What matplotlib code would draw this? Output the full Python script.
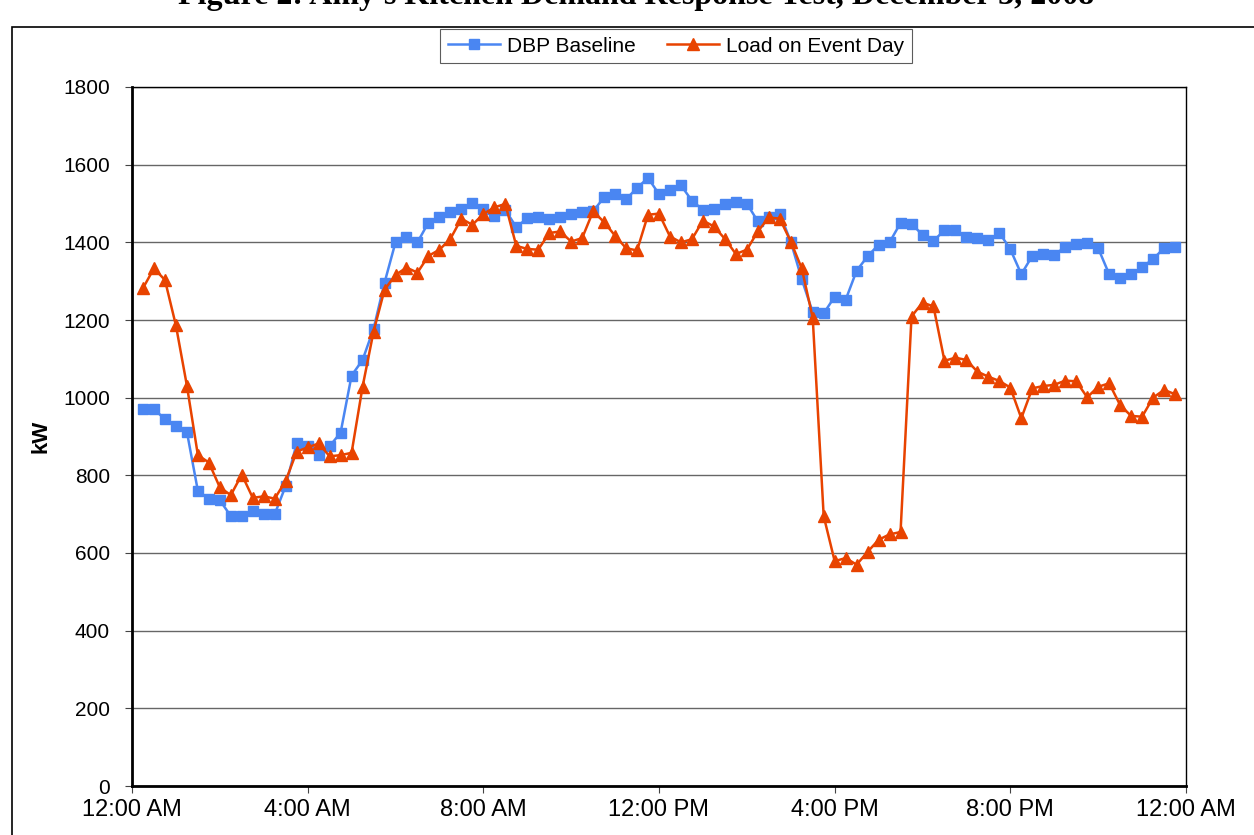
import matplotlib
matplotlib.use("Agg")
import matplotlib.pyplot as plt
from matplotlib.patches import Rectangle
import numpy as np

# 15-minute readings, 12:15 AM .. 11:45 PM (kW)
baseline = [
    970, 970, 945, 928, 912, 760, 740, 736, 695, 695, 707, 700, 700, 773, 883, 876,
    852, 875, 910, 1057, 1097, 1177, 1296, 1400, 1413, 1400, 1451, 1465, 1477, 1487,
    1501, 1486, 1468, 1484, 1439, 1462, 1465, 1461, 1465, 1473, 1477, 1480, 1516, 1525,
    1511, 1540, 1566, 1524, 1536, 1547, 1507, 1484, 1487, 1499, 1504, 1500, 1454, 1465,
    1474, 1402, 1305, 1220, 1217, 1260, 1252, 1327, 1364, 1394, 1400, 1450, 1448, 1419,
    1404, 1431, 1432, 1413, 1411, 1405, 1425, 1382, 1318, 1365, 1370, 1368, 1388, 1395,
    1398, 1385, 1318, 1308, 1318, 1336, 1357, 1385, 1389,
]
event_load = [
    1282, 1333, 1303, 1186, 1031, 852, 833, 769, 749, 802, 742, 746, 740, 786, 861, 872,
    882, 849, 852, 858, 1028, 1170, 1278, 1316, 1335, 1322, 1365, 1381, 1409, 1461,
    1445, 1473, 1490, 1499, 1391, 1383, 1381, 1424, 1428, 1402, 1411, 1480, 1452, 1417,
    1385, 1379, 1471, 1474, 1415, 1400, 1408, 1456, 1441, 1409, 1370, 1381, 1428, 1464,
    1461, 1402, 1333, 1206, 695, 579, 587, 570, 603, 634, 648, 654, 1209, 1245,
    1235, 1095, 1103, 1097, 1067, 1054, 1043, 1026, 947, 1024, 1030, 1033, 1044, 1042,
    1001, 1028, 1037, 981, 953, 951, 1000, 1020, 1009,
]
hours = np.arange(1, len(baseline) + 1) * 0.25

xtick_hours = [0, 4, 8, 12, 16, 20, 24]
xtick_labels = ["12:00 AM", "4:00 AM", "8:00 AM", "12:00 PM", "4:00 PM", "8:00 PM", "12:00 AM"]
yticks = list(range(0, 1801, 200))

plt.rcParams['font.family'] = ['Liberation Sans', 'DejaVu Sans']

W, H = 1254, 835
fig = plt.figure(figsize=(W / 100, H / 100), dpi=100)
ax = fig.add_axes([132 / W, 1 - 786 / H, (1186 - 132) / W, (786 - 87) / H])

ax.plot(hours, baseline, color='#4A86F2', lw=1.8, marker='s', ms=7,
        mec='#4A86F2', label='DBP Baseline', zorder=3)
ax.plot(hours, event_load, color='#E84300', lw=1.8, marker='^', ms=8,
        mec='#E84300', label='Load on Event Day', zorder=4)

ax.set_xlim(0, 24)
ax.set_ylim(0, 1800)
ax.set_xticks(xtick_hours)
ax.set_xticklabels(xtick_labels)
ax.set_yticks(yticks)
ax.tick_params(axis='both', direction='out', length=5, width=0.8, color='#444444')
ax.tick_params(axis='x', labelsize=17, pad=4)
ax.tick_params(axis='y', labelsize=15, pad=11)
ax.yaxis.grid(True, color='#666666', lw=1)
ax.set_axisbelow(True)
for s in ax.spines.values():
    s.set_color('black')
    s.set_linewidth(1)
ax.spines['left'].set_linewidth(2)
ax.spines['bottom'].set_linewidth(2)
ax.set_ylabel('kW', fontsize=16, fontweight='bold', labelpad=8)

leg = fig.legend(loc='center', bbox_to_anchor=(676 / W, 1 - 46 / H), ncol=2,
                 fontsize=15, frameon=True, fancybox=False, handlelength=2.5,
                 columnspacing=1.5, borderpad=0.35, handletextpad=0.35)
leg.get_frame().set_edgecolor('#333333')
leg.get_frame().set_linewidth(0.8)

# outer chart-area border
fig.patches.append(Rectangle((12 / W, -0.05), 1.2, 1 - 27 / H + 0.05,
                             transform=fig.transFigure, fill=False,
                             edgecolor='black', lw=1.2))

fig.text(636 / W, 1 - 4 / H, "Figure 2: Amy's Kitchen Demand Response Test, December 3, 2008",
         ha='center', va='baseline', fontsize=23, fontweight='bold',
         family=['Liberation Serif', 'DejaVu Serif'])

fig.savefig('out.png', dpi=100)
